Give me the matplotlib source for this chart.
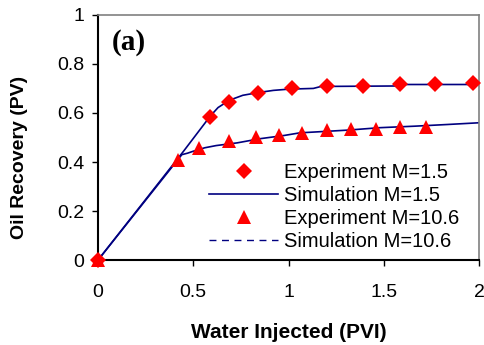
import matplotlib
matplotlib.use('Agg')
import matplotlib.pyplot as plt
from matplotlib.lines import Line2D

plt.rcParams['font.family'] = ['Liberation Sans', 'DejaVu Sans']

# experiment M=1.5 (diamonds)
exp15_x = [0, 0.59, 0.69, 0.84, 1.02, 1.20, 1.39, 1.585, 1.77, 1.97]
exp15_y = [0, 0.585, 0.646, 0.683, 0.700, 0.708, 0.708, 0.716, 0.716, 0.724]

# experiment M=10.6 (triangles)
exp106_x = [0, 0.42, 0.53, 0.69, 0.83, 0.95, 1.07, 1.20, 1.33, 1.46, 1.585, 1.72]
exp106_y = [0, 0.410, 0.458, 0.487, 0.500, 0.512, 0.519, 0.529, 0.533, 0.536, 0.542, 0.542]

# simulation curves
sim15_x = [0, 0.45, 0.59, 0.63, 0.69, 0.76, 0.84, 0.92, 1.0, 1.13, 1.17, 1.57, 1.58, 2.0]
sim15_y = [0, 0.445, 0.588, 0.622, 0.652, 0.672, 0.683, 0.692, 0.697, 0.700, 0.708,
           0.710, 0.716, 0.716]

sim106_x = [0, 0.44, 0.47, 0.50, 0.56, 0.62, 0.73, 0.85, 0.975, 1.06, 1.13, 1.31,
            1.48, 1.66, 1.835, 2.0]
sim106_y = [0, 0.430, 0.436, 0.444, 0.458, 0.467, 0.478, 0.495, 0.508, 0.519, 0.522,
            0.530, 0.540, 0.546, 0.553, 0.560]

xticks = [0, 0.5, 1, 1.5, 2]
yticks = [0, 0.2, 0.4, 0.6, 0.8, 1]

navy = '#000080'
red = '#ff0000'

fig = plt.figure(figsize=(4.85, 3.45), dpi=100)
ax = fig.add_axes([0.202, 0.246, 0.786, 0.711])

ax.plot(sim15_x, sim15_y, color=navy, linewidth=1.2)
ax.plot(sim106_x, sim106_y, color=navy, linewidth=1.2)
ax.plot(exp15_x, exp15_y, linestyle='none', marker='D', markersize=8.5,
        color=red, markeredgewidth=0, clip_on=False, zorder=3)
ax.plot(exp106_x, exp106_y, linestyle='none', marker='^', markersize=10,
        color=red, markeredgewidth=0, clip_on=False, zorder=3)

ax.set_xlim(0, 2)
ax.set_ylim(0, 1)
ax.set_xticks(xticks, labels=['%g' % v for v in xticks])
ax.set_yticks(yticks, labels=['%g' % v for v in yticks])
ax.tick_params(axis='x', direction='out', length=4, width=1, pad=13, labelsize=14)
ax.tick_params(axis='y', direction='out', length=4, width=1, pad=6, labelsize=14)

for side in ['left', 'bottom']:
    ax.spines[side].set_linewidth(1.5)
    ax.spines[side].set_color('black')
for side in ['top', 'right']:
    ax.spines[side].set_linewidth(1.2)
    ax.spines[side].set_color('#808080')

ax.set_xlabel('Water Injected (PVI)', fontsize=15, fontweight='bold', labelpad=16)
ax.set_ylabel('Oil Recovery (PV)', fontsize=14, fontweight='bold')
ax.yaxis.set_label_coords(-0.184, 0.418)

ax.text(0.037, 0.886, '(a)', transform=ax.transAxes, fontsize=21, fontweight='bold',
        family='Liberation Serif', va='center', ha='left')

handles = [
    Line2D([], [], linestyle='none', marker='D', markersize=8.5, color=red,
           markeredgewidth=0),
    Line2D([], [], color=navy, linewidth=1.2),
    Line2D([], [], linestyle='none', marker='^', markersize=10, color=red,
           markeredgewidth=0),
    Line2D([], [], color=navy, linewidth=1.0, linestyle=(0, (5, 4))),
]
labels = ['Experiment M=1.5', 'Simulation M=1.5', 'Experiment M=10.6',
          'Simulation M=10.6']
ax.legend(handles, labels, loc='upper left', bbox_to_anchor=(0.291, 0.395),
          frameon=False, fontsize=14.5, handlelength=3.45, handletextpad=0.3,
          labelspacing=0.2, borderpad=0, borderaxespad=0)

fig.savefig('out.png', dpi=100)
